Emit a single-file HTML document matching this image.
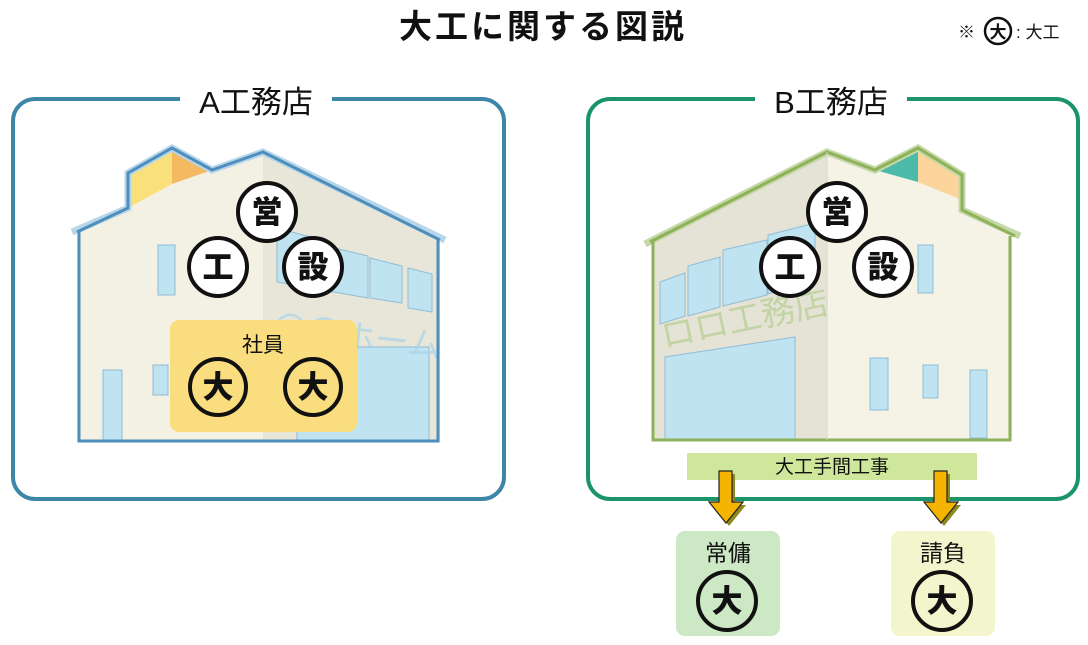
<!DOCTYPE html>
<html><head><meta charset="utf-8"><style>
html,body{margin:0;padding:0;background:#fff;}
svg{display:block;}
text{font-family:"Liberation Sans","Noto Sans CJK JP",sans-serif;}
.c{fill:#fff;stroke:#111;stroke-width:4;}
.ct{font-size:31px;font-weight:900;text-anchor:middle;fill:#111;}
.w{fill:#bfe3f0;stroke:#8fbcd6;stroke-width:1;}
</style></head><body>
<svg width="1088" height="645" viewBox="0 0 1088 645" xmlns="http://www.w3.org/2000/svg">
<rect width="1088" height="645" fill="#fff"/>
<text x="543" y="38" font-size="33" font-weight="bold" text-anchor="middle" letter-spacing="3" fill="#111">大工に関する図説</text>
<!-- legend -->
<text x="958" y="38" font-size="17" fill="#111">※</text>
<circle cx="998" cy="31" r="13" fill="#fff" stroke="#111" stroke-width="2.5"/>
<text x="998" y="38" font-size="17" font-weight="bold" text-anchor="middle" fill="#111">大</text>
<text x="1016" y="38" font-size="17" fill="#111">: 大工</text>

<!-- Box A -->
<rect x="13" y="99" width="491" height="400" rx="22" fill="none" stroke="#3d86a8" stroke-width="4"/>
<rect x="180" y="85" width="152" height="30" fill="#fff"/>
<text x="256" y="113" font-size="31" text-anchor="middle" fill="#111">A工務店</text>

<!-- House A -->
<polygon points="77,232 128,208 128,173 172,148 212,170 263,152 263,442 77,442" fill="#f3f1e3"/>
<polygon points="263,152 440,240 440,442 263,442" fill="#e8e6d8"/>
<polygon points="128,208 128,173 172,148 172,184" fill="#f9e07a"/>
<polygon points="172,148 212,170 172,184" fill="#f5b962"/>
<rect x="158" y="245" width="17" height="50" class="w"/>
<polygon points="277,228 322,240 322,290 277,282" class="w"/>
<polygon points="322,245 368,256 368,298 322,290" class="w"/>
<polygon points="370,258 402,266 402,303 370,298" class="w"/>
<polygon points="408,268 432,274 432,312 408,308" class="w"/>
<rect x="103" y="370" width="19" height="70" class="w"/>
<rect x="153" y="365" width="15" height="30" class="w"/>
<rect x="297" y="347" width="132" height="93" class="w"/>
<text x="272" y="340" font-size="34" fill="#a9d3ea" opacity="0.7" transform="rotate(6 272 340)">〇〇ホーム</text>
<polyline points="72,232 128,208 128,173 172,148 212,170 263,152 445,240" fill="none" stroke="#b7d6ea" stroke-width="7"/>
<polyline points="77,232 128,208 128,173 172,148 212,170 263,152 440,240" fill="none" stroke="#4e8ebd" stroke-width="3"/>
<polyline points="79,232 79,441 438,441 438,240" fill="none" stroke="#4e8ebd" stroke-width="3"/>

<circle cx="267" cy="212" r="29" class="c"/><text x="267" y="223" class="ct">営</text>
<circle cx="218" cy="267" r="29" class="c"/><text x="218" y="278" class="ct">工</text>
<circle cx="313" cy="267" r="29" class="c"/><text x="313" y="278" class="ct">設</text>

<rect x="170" y="320" width="187" height="112" rx="9" fill="#f9dd7e"/>
<text x="263" y="352" font-size="21" text-anchor="middle" fill="#111">社員</text>
<circle cx="218" cy="387" r="28" fill="none" stroke="#111" stroke-width="4"/><text x="218" y="398" class="ct">大</text>
<circle cx="313" cy="387" r="28" fill="none" stroke="#111" stroke-width="4"/><text x="313" y="398" class="ct">大</text>

<!-- Box B -->
<rect x="588" y="99" width="490" height="400" rx="22" fill="none" stroke="#1a9468" stroke-width="4"/>
<rect x="755" y="85" width="152" height="30" fill="#fff"/>
<text x="831" y="113" font-size="31" text-anchor="middle" fill="#111">B工務店</text>

<!-- House B -->
<polygon points="652,242 827,152 827,440 652,440" fill="#e4e3d6"/>
<polygon points="827,152 875,170 918,148 962,175 962,210 1012,235 1012,440 827,440" fill="#f4f3e6"/>
<polygon points="875,170 918,148 918,182" fill="#4bbaa8"/>
<polygon points="918,148 962,175 962,200 918,182" fill="#fbd59c"/>
<polygon points="660,282 685,273 685,316 660,324" class="w"/>
<polygon points="688,266 720,257 720,307 688,316" class="w"/>
<polygon points="723,250 767,240 767,295 723,306" class="w"/>
<polygon points="768,235 815,223 815,277 768,294" class="w"/>
<polygon points="665,357 795,337 795,440 665,440" class="w"/>
<rect x="870" y="358" width="18" height="52" class="w"/>
<rect x="923" y="365" width="15" height="33" class="w"/>
<rect x="970" y="370" width="17" height="68" class="w"/>
<rect x="918" y="245" width="15" height="48" class="w"/>
<text x="664" y="348" font-size="34" fill="#b9cf94" opacity="0.75" transform="rotate(-12 664 348)">ロロ工務店</text>
<polyline points="645,244 827,152 875,170 918,148 962,175 962,210 1020,236" fill="none" stroke="#c6d8a6" stroke-width="7"/>
<polyline points="650,242 827,152 875,170 918,148 962,175 962,210 1015,236" fill="none" stroke="#8db25a" stroke-width="3"/>
<polyline points="653,242 653,440 1010,440 1010,236" fill="none" stroke="#8db25a" stroke-width="3"/>
<line x1="827" y1="152" x2="827" y2="440" stroke="#d8d6c6" stroke-width="1"/>

<circle cx="837" cy="212" r="29" class="c"/><text x="837" y="223" class="ct">営</text>
<circle cx="790" cy="267" r="29" class="c"/><text x="790" y="278" class="ct">工</text>
<circle cx="883" cy="267" r="29" class="c"/><text x="883" y="278" class="ct">設</text>

<rect x="687" y="453" width="290" height="27" fill="#cfe79a"/>
<text x="832" y="473" font-size="19" text-anchor="middle" fill="#111">大工手間工事</text>

<!-- arrows -->
<g>
<polygon points="722,474 735,474 735,505 746,505 729,526 712,505 722,505" fill="#8a8a20"/>
<polygon points="719,471 732,471 732,502 743,502 726,523 709,502 719,502" fill="#f5b400" stroke="#222" stroke-width="1.2"/>
<polygon points="937,474 950,474 950,505 961,505 944,526 927,505 937,505" fill="#8a8a20"/>
<polygon points="934,471 947,471 947,502 958,502 941,523 924,502 934,502" fill="#f5b400" stroke="#222" stroke-width="1.2"/>
</g>

<rect x="676" y="531" width="104" height="105" rx="9" fill="#cde8c4"/>
<text x="728" y="561" font-size="23" text-anchor="middle" fill="#111">常傭</text>
<circle cx="727" cy="601" r="29" fill="none" stroke="#111" stroke-width="4"/><text x="727" y="612" class="ct">大</text>

<rect x="891" y="531" width="104" height="105" rx="9" fill="#f3f6cc"/>
<text x="943" y="561" font-size="23" text-anchor="middle" fill="#111">請負</text>
<circle cx="942" cy="601" r="29" fill="none" stroke="#111" stroke-width="4"/><text x="942" y="612" class="ct">大</text>
</svg>
</body></html>
